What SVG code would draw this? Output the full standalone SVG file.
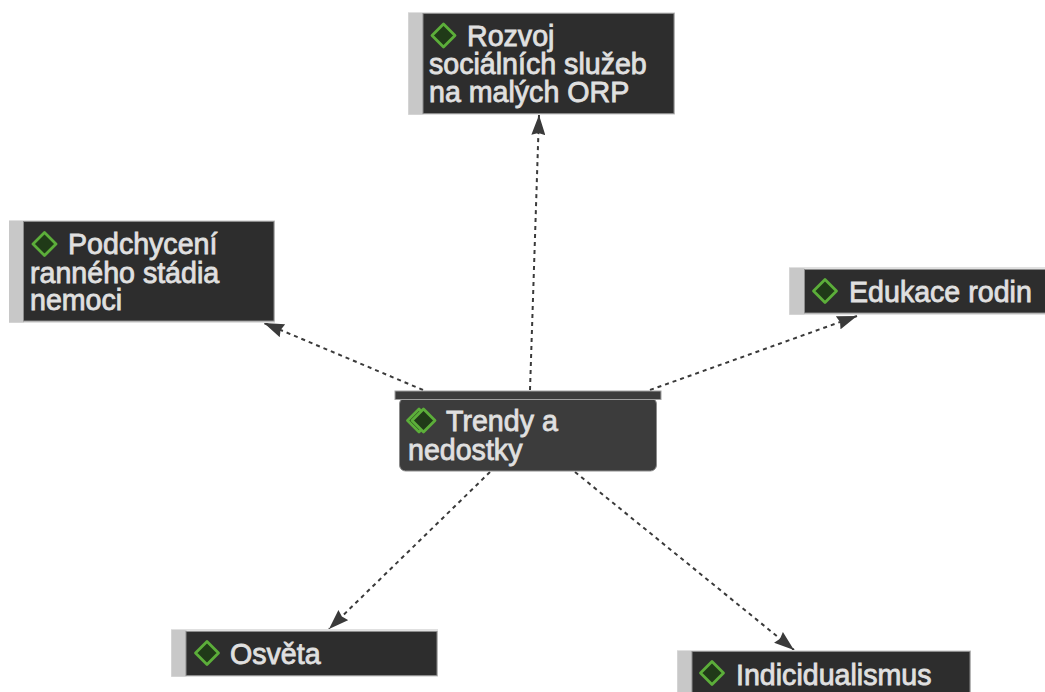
<svg xmlns="http://www.w3.org/2000/svg" width="1045" height="692" viewBox="0 0 1045 692">
<style>
.t{font-family:"Liberation Sans",Arial,sans-serif;font-size:28.6px;fill:#e0e0e0;stroke:#e0e0e0;stroke-width:.8px}
.tab{fill:#c8c8c8}
.out{fill:#e0e0e0}
.b{fill:#2d2d2d;stroke:#8c8c8c;stroke-width:1}
.d{fill:#203a18;stroke:#5cae3a;stroke-width:2.8;stroke-linejoin:round}
.c{fill:none;stroke:#3a3a3a;stroke-width:2;stroke-dasharray:4 4}
</style>
<defs>
<marker id="a" markerUnits="userSpaceOnUse" markerWidth="21" markerHeight="14" refX="20" refY="7" orient="auto"><path d="M0 0L20 7L0 14L2 7Z" fill="#3a3a3a"/></marker>
<path id="dm" d="M0-11.500L11.500 0L0 11.500L-11.500 0Z"/>
</defs>
<g id="connectors">
<path class="c" d="M530 390L539 115" marker-end="url(#a)"/>
<path class="c" d="M423 390L264 323" marker-end="url(#a)"/>
<path class="c" d="M650 390L857 316" marker-end="url(#a)"/>
<path class="c" d="M490 472L329 629" marker-end="url(#a)"/>
<path class="c" d="M575 472L794 650" marker-end="url(#a)"/>
</g>
<g id="node-rozvoj">
<rect class="out" x="408" y="12" width="267" height="103"/><rect class="tab" x="408.500" y="13" width="15" height="101.500"/><rect class="b" x="423" y="13.500" width="251" height="100"/>
<use href="#dm" class="d" x="443.500" y="35.500"/>
<text class="t" x="467" y="46">Rozvoj</text><text class="t" x="429" y="74">sociálních služeb</text><text class="t" x="429" y="102">na malých ORP</text>
</g>
<g id="node-podchyceni">
<rect class="out" x="9" y="220" width="266" height="103"/><rect class="tab" x="9" y="221" width="15" height="101.500"/><rect class="b" x="23.500" y="221.500" width="250.500" height="99.500"/>
<use href="#dm" class="d" x="44.500" y="244"/>
<text class="t" x="68" y="254">Podchycení</text><text class="t" x="30" y="283">ranného stádia</text><text class="t" x="30" y="310">nemoci</text>
</g>
<g id="node-edukace">
<rect class="out" x="789" y="267" width="256" height="48"/><rect class="tab" x="789.500" y="268" width="15" height="46.500"/><rect class="b" x="804.500" y="269.500" width="242" height="43.500"/>
<use href="#dm" class="d" x="825" y="291"/>
<text class="t" x="849" y="302">Edukace rodin</text>
</g>
<g id="node-osveta">
<rect class="out" x="171" y="629" width="267" height="48"/><rect class="tab" x="171.500" y="630" width="15" height="46.500"/><rect class="b" x="186" y="631.500" width="251" height="44"/>
<use href="#dm" class="d" x="207" y="653"/>
<text class="t" x="230" y="664">Osvěta</text>
</g>
<g id="node-indicidualismus">
<rect class="out" x="677" y="650" width="294" height="48"/><rect class="tab" x="677.500" y="651" width="15" height="46"/><rect class="b" x="692" y="651.500" width="278" height="44"/>
<use href="#dm" class="d" x="712" y="673"/>
<text class="t" x="736" y="685">Indicidualismus</text>
</g>
<g id="node-trendy">
<rect x="399.500" y="398" width="257" height="73" rx="6" fill="#3c3c3c" stroke="#8c8c8c"/>
<rect x="395" y="391" width="266" height="8.500" fill="#3c3c3c" stroke="#a0a0a0" stroke-width="1"/>
<use href="#dm" class="d" x="419" y="420.500"/><use href="#dm" class="d" x="423.500" y="420.500"/>
<text class="t" x="446" y="431">Trendy a</text><text class="t" x="408" y="460">nedostky</text>
</g>
</svg>
